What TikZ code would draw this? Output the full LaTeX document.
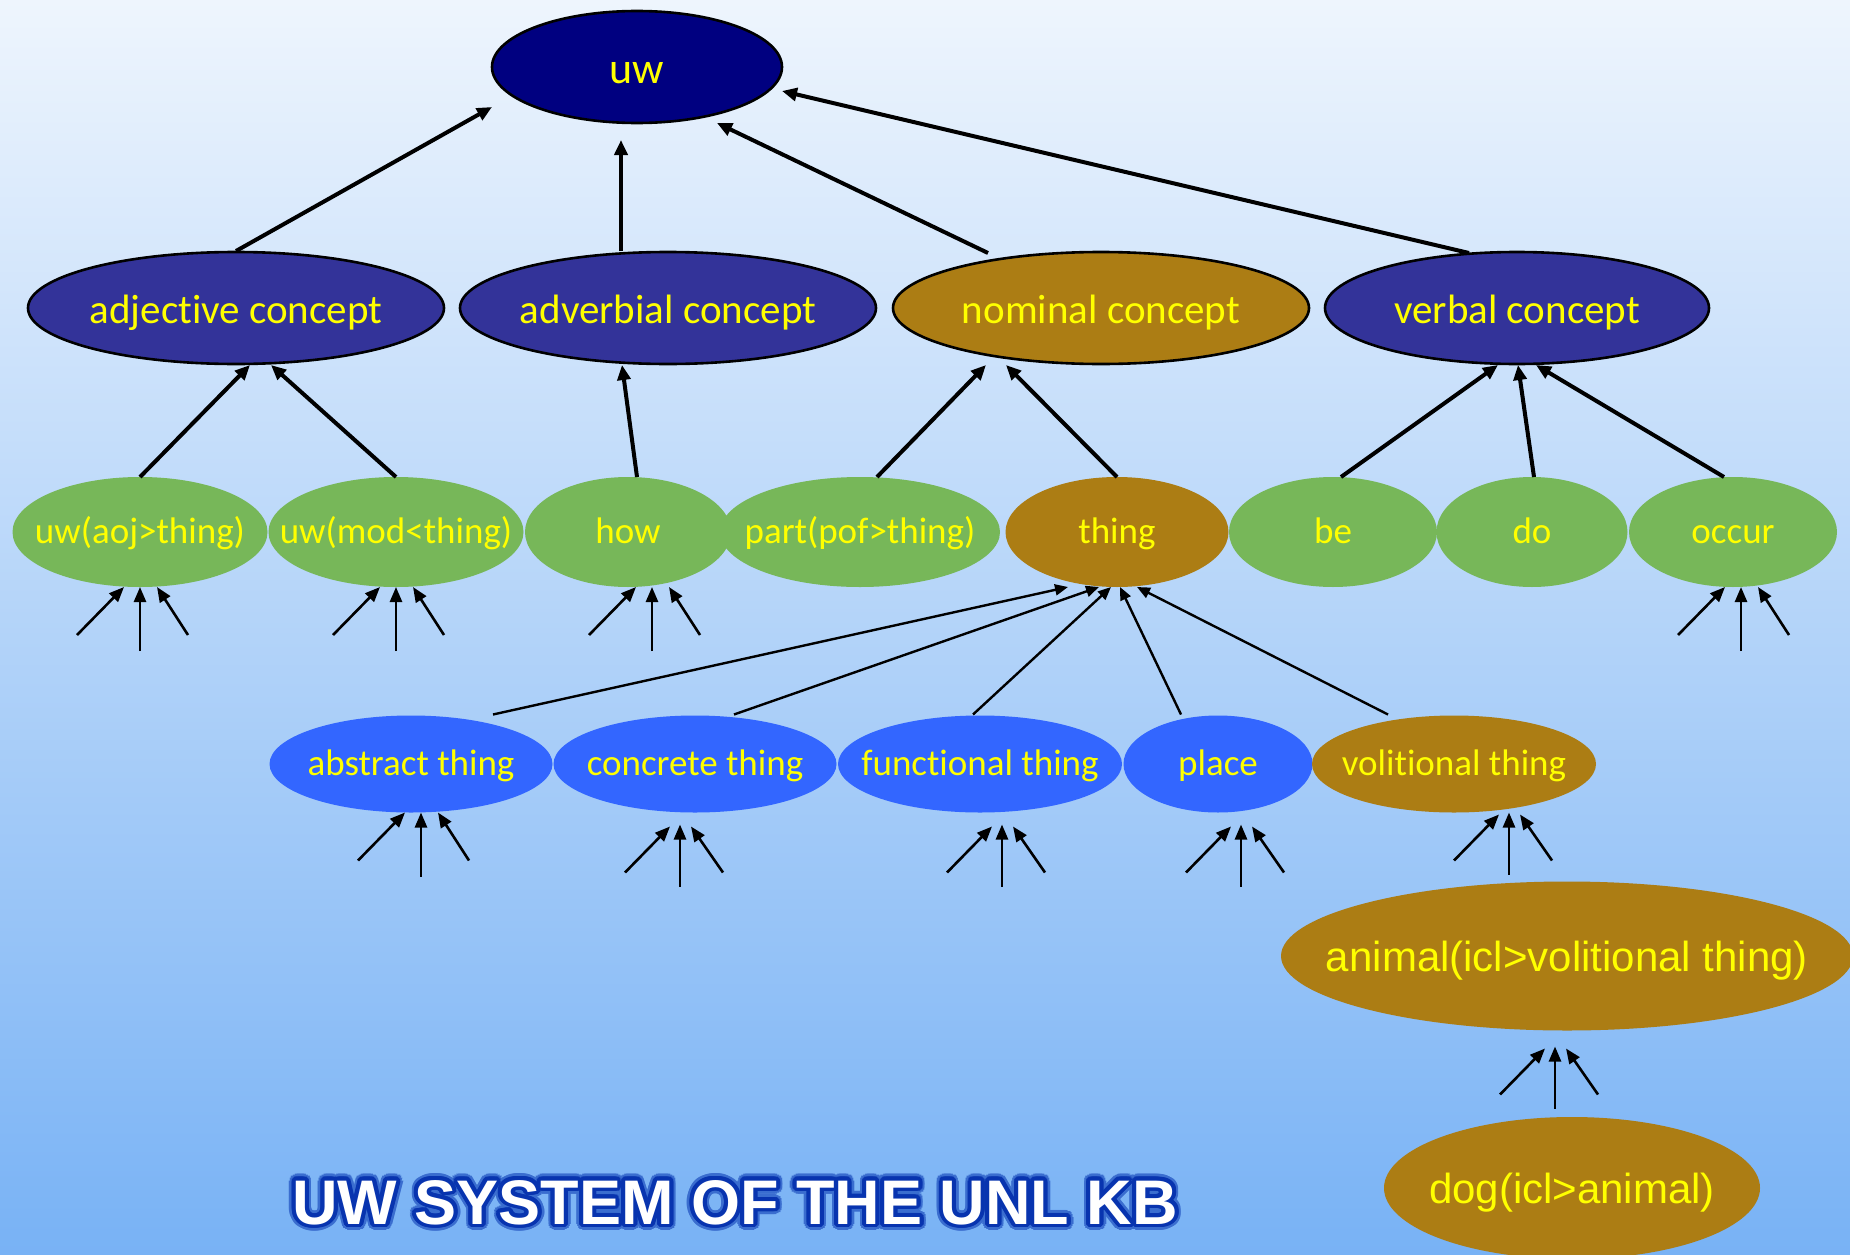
\documentclass[tikz,border=0pt]{standalone}
\usepackage{fontspec}
\usetikzlibrary{arrows.meta,calc,shapes.geometric}
\newfontfamily\gillfont{Carlito}[Ligatures={NoCommon}]
\newfontfamily\arialfont{Liberation Sans}
\newfontfamily\arialbold{Liberation Sans Bold}
\newcommand\zw[1]{\makebox[0pt]{#1}}

\definecolor{uwnavy}{RGB}{0,0,128}
\definecolor{conceptblue}{RGB}{51,51,153}
\definecolor{ochre}{RGB}{172,125,20}
\definecolor{leafgreen}{RGB}{119,183,89}
\definecolor{brightblue}{RGB}{51,102,255}
\definecolor{labelyellow}{RGB}{255,255,0}
\definecolor{skytop}{RGB}{238,245,253}
\definecolor{skybottom}{RGB}{120,178,245}
\definecolor{glowblue}{RGB}{8,52,175}

\tikzset{
  blob/.style={ellipse, inner sep=0pt, outer sep=0pt, text=labelyellow, text depth=0pt},
  rootnode/.style={blob, draw=black, line width=2.6pt, fill=uwnavy,
    minimum width=290pt, minimum height=112pt,
    font=\gillfont\fontsize{44pt}{44pt}\selectfont, text height=34pt},
  conceptnode/.style={blob, draw=black, line width=2.6pt, fill=conceptblue,
    minimum width=416pt, minimum height=112pt,
    font=\gillfont\fontsize{41pt}{41pt}\selectfont, text height=30pt},
  leafnode/.style={blob, fill=leafgreen, minimum height=110pt,
    font=\gillfont\fontsize{37pt}{37pt}\selectfont, text height=23pt},
  kindnode/.style={blob, fill=brightblue, minimum height=97pt,
    font=\gillfont\fontsize{37pt}{37pt}\selectfont, text height=23pt},
  bignode/.style={blob, fill=ochre,
    font=\arialfont\fontsize{42pt}{42pt}\selectfont, text height=31pt},
  ochrefill/.style={fill=ochre},
  heavyarrow/.style={draw=black, line width=4pt, -{Triangle[length=15pt,width=13pt]}},
  linkarrow/.style={draw=black, line width=2.4pt, -{Triangle[length=13pt,width=11pt]}},
  fanarrow/.style={draw=black, line width=2.6pt, -{Triangle[length=15pt,width=12pt]}},
  titletext/.style={anchor=base, inner sep=0pt, font=\arialbold\fontsize{63pt}{63pt}\selectfont},
  fanA/.pic={
    \draw[fanarrow] (-63,48) -- (-16,0);
    \draw[fanarrow] (0,64) -- (0,0);
    \draw[fanarrow] (48,48) -- (17,0);
  },
  fanB/.pic={
    \draw[fanarrow] (-55,48) -- (-10,2);
    \draw[fanarrow] (0,62) -- (0,0);
    \draw[fanarrow] (43,48) -- (11,2);
  },
}

\begin{document}
\begin{tikzpicture}[x=1pt,y=-1pt]
\useasboundingbox (0,0) rectangle (1850,1255);
\clip (0,0) rectangle (1850,1255);
\shade[top color=skytop, bottom color=skybottom] (0,0) rectangle (1850,1255);

% root
\node[rootnode] (uw) at (637,67) {\zw{uw}};

% concept level
\node[conceptnode] (adj) at (236,308) {\zw{adjective concept}};
\node[conceptnode] (adv) at (668,308) {\zw{adverbial concept}};
\node[conceptnode, ochrefill] (nom) at (1101,308) {\zw{nominal concept}};
\node[conceptnode, minimum width=384pt] (verb) at (1517,308) {\zw{verbal concept}};

% second level
\node[leafnode, minimum width=255pt] (aoj) at (140,532) {\zw{uw(aoj>thing)}};
\node[leafnode, minimum width=255pt] (mod) at (396,532) {\zw{uw(mod<thing)}};
\node[leafnode, minimum width=206pt] (how) at (628,532) {\zw{how}};
\node[leafnode, minimum width=280pt] (part) at (860,532) {\zw{part(pof>thing)}};
\node[leafnode, ochrefill, minimum width=223pt] (thing) at (1117,532) {\zw{thing}};
\node[leafnode, minimum width=208pt] (be) at (1333,532) {\zw{be}};
\node[leafnode, minimum width=191pt] (do) at (1532,532) {\zw{do}};
\node[leafnode, minimum width=208pt] (occur) at (1733,532) {\zw{occur}};

% kinds of thing
\node[kindnode, minimum width=283pt] (abs) at (411,764) {\zw{abstract thing}};
\node[kindnode, minimum width=283pt] (conc) at (695,764) {\zw{concrete thing}};
\node[kindnode, minimum width=284pt] (func) at (980,764) {\zw{functional thing}};
\node[kindnode, minimum width=189pt] (place) at (1218,764) {\zw{place}};
\node[kindnode, ochrefill, minimum width=284pt] (vol) at (1454,764) {\zw{volitional thing}};

% instances
\node[bignode, minimum width=572pt, minimum height=149pt] (animal) at (1567,956) {\zw{animal(icl>volitional thing)}};
\node[bignode, minimum width=376pt, minimum height=142pt] (dog) at (1572,1188) {\zw{dog(icl>animal)}};

% concepts up to uw
\draw[heavyarrow] ($(adj.north)+(0,-1)$) -- ($(uw.center)+(-145,40)$);
\draw[heavyarrow] ($(adv.north)+(-47,-1)$) -- ($(uw.center)+(-16,73)$);
\draw[heavyarrow] ($(nom.north)+(-113,1)$) -- ($(uw.center)+(80,56)$);
\draw[heavyarrow] ($(verb.north)+(-48,1)$) -- ($(uw.center)+(145,24)$);

% second level up to concepts
\draw[heavyarrow] (aoj.north) -- ($(adj.south)+(14,1)$);
\draw[heavyarrow] (mod.north) -- ($(adj.south)+(35,1)$);
\draw[heavyarrow] ($(how.north)+(9,0)$) -- ($(adv.south)+(-46,1)$);
\draw[heavyarrow] ($(part.north)+(17,0)$) -- ($(nom.south)+(-115,1)$);
\draw[heavyarrow] (thing.north) -- ($(nom.south)+(-95,1)$);
\draw[heavyarrow] ($(be.north)+(8,0)$) -- ($(verb.south)+(-19,1)$);
\draw[heavyarrow] ($(do.north)+(2,0)$) -- ($(verb.south)+(1,1)$);
\draw[heavyarrow] ($(occur.north)+(-9,0)$) -- ($(verb.south)+(19,1)$);

% kinds up to thing
\draw[linkarrow] ($(abs.north)+(82,-1)$) -- ($(thing.south)+(-49,0)$);
\draw[linkarrow] ($(conc.north)+(39,-1)$) -- ($(thing.south)+(-18,0)$);
\draw[linkarrow] ($(func.north)+(-7,-1)$) -- ($(thing.south)+(-6,0)$);
\draw[linkarrow] ($(place.north)+(-37,-1)$) -- ($(thing.south)+(3,0)$);
\draw[linkarrow] ($(vol.north)+(-66,-1)$) -- ($(thing.south)+(20,0)$);

% incoming fans
\pic at (aoj.south) {fanA};
\pic at (mod.south) {fanA};
\pic at ($(how.south)+(24,0)$) {fanA};
\pic at ($(occur.south)+(8,0)$) {fanA};
\pic at ($(abs.south)+(10,0)$) {fanA};
\pic at ($(conc.south)+(-15,12)$) {fanB};
\pic at ($(func.south)+(22,12)$) {fanB};
\pic at ($(place.south)+(23,12)$) {fanB};
\pic at ($(vol.south)+(55,0)$) {fanB};
\pic at ($(animal.south)+(-12,16)$) {fanB};

% title with a blue rim
\coordinate (titlebase) at (735,1224);
\foreach \a in {0,20,...,340}
  \node[titletext, text=glowblue!55!skybottom] (haze\a) at ($(titlebase)+(\a:6.5)$) {UW SYSTEM OF THE UNL KB};
\foreach \a in {0,20,...,340}
  \node[titletext, text=glowblue] (rim\a) at ($(titlebase)+(\a:4)$) {UW SYSTEM OF THE UNL KB};
\node[titletext, text=white] (title) at (titlebase) {UW SYSTEM OF THE UNL KB};
\end{tikzpicture}
\end{document}
